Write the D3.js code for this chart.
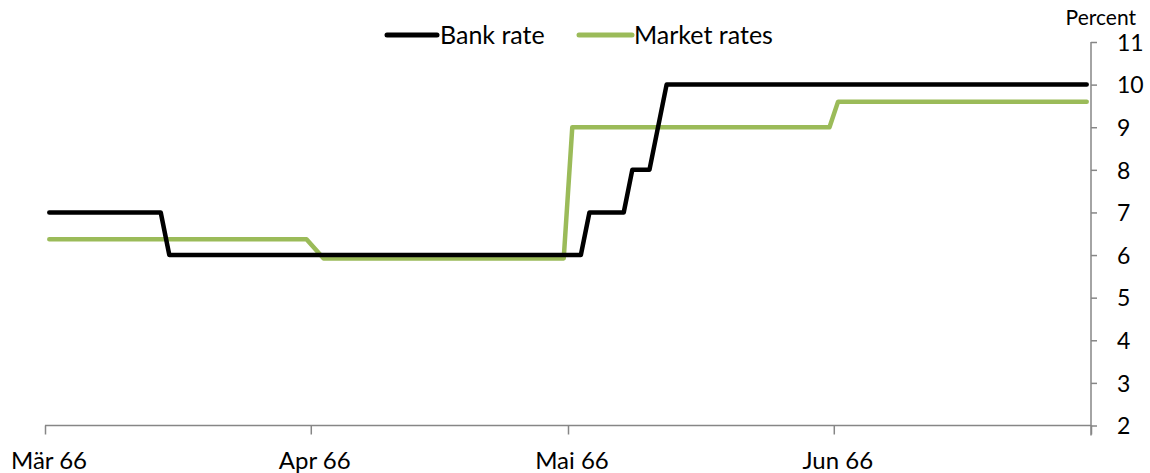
<!DOCTYPE html>
<html>
<head>
<meta charset="utf-8">
<script src="https://cdn.jsdelivr.net/npm/d3@7"></script>
<style>
  html, body { margin: 0; padding: 0; background: #fff; }
  svg text { font-family: Lato, "Open Sans", sans-serif; fill: #000; }
</style>
</head>
<body>
<svg id="chart" width="1150" height="473"></svg>
<script>
// ---- Data ----
const bankDates    = ["1966-03-01","1966-03-14","1966-03-15","1966-05-02","1966-05-03","1966-05-07","1966-05-08","1966-05-10","1966-05-12","1966-06-30"];
const bankValues   = [7, 7, 6, 6, 7, 7, 8, 8, 10, 10];
const marketDates  = ["1966-03-01","1966-03-31","1966-04-02","1966-04-30","1966-05-01","1966-05-31","1966-06-01","1966-06-30"];
const marketValues = [6.37, 6.37, 5.92, 5.92, 9.0, 9.0, 9.6, 9.6];
const xTickDates   = ["1966-03-01","1966-04-01","1966-05-01","1966-06-01","1966-07-01"];
const xTickLabels  = ["Mär 66","Apr 66","Mai 66","Jun 66",""];
const yTicks       = [2,3,4,5,6,7,8,9,10,11];
const seriesNames  = ["Bank rate","Market rates"];
const seriesColors = ["#000000","#9BBB59"];

(function () {
const parse = d3.utcParse("%Y-%m-%d");
const svg = d3.select("#chart");

const pLeft = 45, pRight = 1091, pTop = 42, pBottom = 425.5;
const x = d3.scaleUtc().domain([parse("1966-03-01"), parse("1966-07-01")]).range([pLeft, pRight]);
const y = d3.scaleLinear().domain([2, 11]).range([pBottom, pTop]);
const dayW = x(parse("1966-03-02")) - x(parse("1966-03-01"));

const axisColor = "#868686";

// X axis
const xAxis = svg.append("g").attr("transform", `translate(0,${pBottom})`)
  .call(d3.axisBottom(x).tickValues(xTickDates.map(parse)).tickSize(9).tickFormat(""));
xAxis.select(".domain").attr("stroke", axisColor).attr("stroke-width", 1.5).attr("d", `M${pLeft},0H${pRight}`);
xAxis.selectAll(".tick line").attr("stroke", axisColor).attr("stroke-width", 1.5);
xTickDates.forEach((d, i) => {
  if (!xTickLabels[i]) return;
  svg.append("text").attr("x", x(parse(d)) + 4).attr("y", 469)
    .attr("text-anchor", "middle").style("font-size", "24px").text(xTickLabels[i]);
});

// Y axis (right)
const yAxis = svg.append("g").attr("transform", `translate(${pRight},0)`)
  .call(d3.axisRight(y).tickValues(yTicks).tickSize(6).tickPadding(20).tickFormat(d3.format("d")));
yAxis.select(".domain").attr("stroke", axisColor).attr("stroke-width", 1.5).attr("d", `M0,${pTop}V${pBottom + 10}`);
yAxis.selectAll(".tick line").attr("stroke", axisColor).attr("stroke-width", 1.5);
yAxis.selectAll(".tick text").style("font-size", "23px").attr("fill", "#000")
  .attr("text-anchor", "start").attr("x", 26).attr("dy", "0.36em");

svg.append("text").attr("x", 1136).attr("y", 25).attr("text-anchor", "end")
  .style("font-size", "21px").text("Percent");

// Lines
const line = d3.line().x(d => x(d.date) + dayW / 2).y(d => y(d.value));
const series = [
  { dates: marketDates, values: marketValues, color: seriesColors[1] },
  { dates: bankDates, values: bankValues, color: seriesColors[0] }
];
series.forEach(s => {
  const data = s.dates.map((d, i) => ({ date: parse(d), value: s.values[i] }));
  svg.append("path").datum(data).attr("d", line)
    .attr("fill", "none").attr("stroke", s.color).attr("stroke-width", 4.5)
    .attr("stroke-linejoin", "round").attr("stroke-linecap", "round");
});

// Legend
const legend = [
  { name: seriesNames[0], color: seriesColors[0], x1: 387, x2: 437, tx: 440 },
  { name: seriesNames[1], color: seriesColors[1], x1: 579, x2: 632, tx: 634 }
];
legend.forEach(l => {
  svg.append("line").attr("x1", l.x1).attr("x2", l.x2).attr("y1", 35).attr("y2", 35)
    .attr("stroke", l.color).attr("stroke-width", 5).attr("stroke-linecap", "round");
  svg.append("text").attr("x", l.tx).attr("y", 44).style("font-size", "25px").text(l.name);
});
})();
</script>
</body>
</html>
